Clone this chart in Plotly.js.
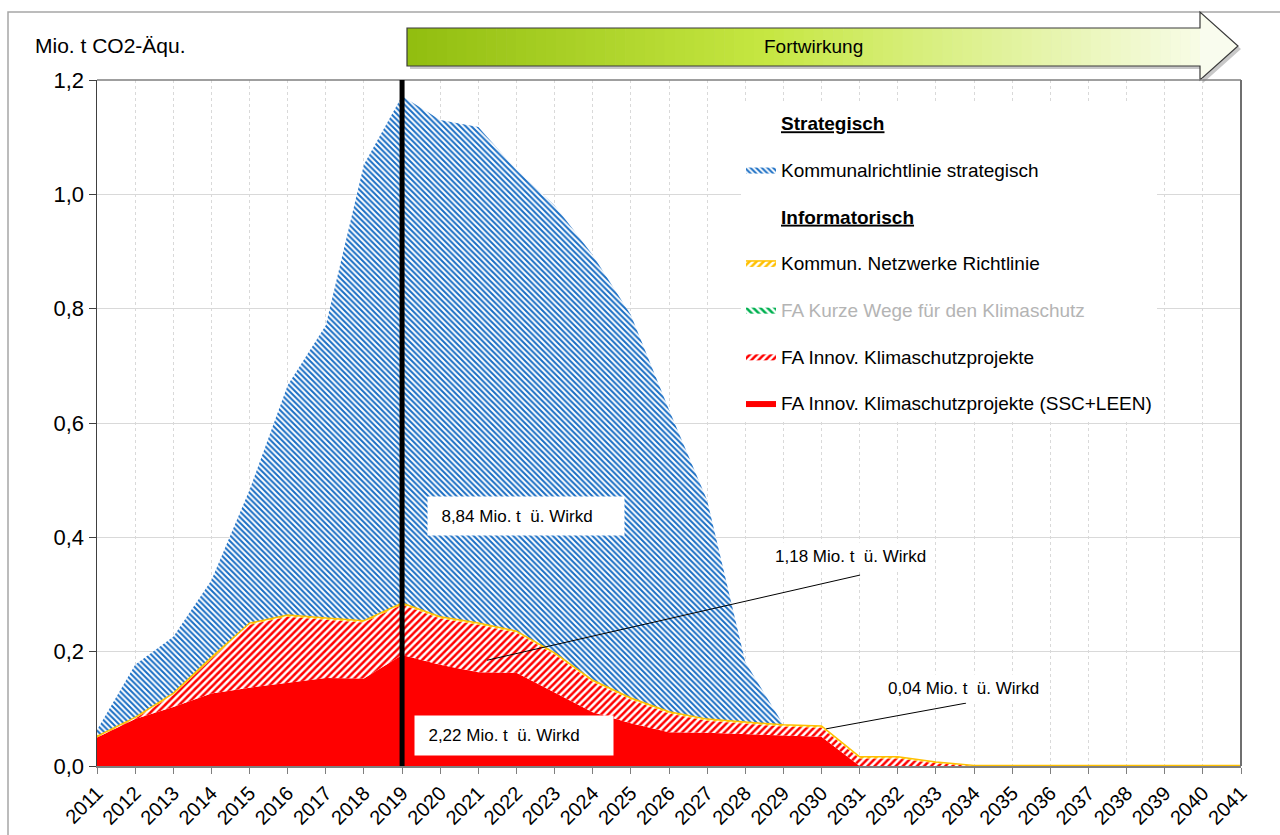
<!DOCTYPE html>
<html>
<head>
<meta charset="utf-8">
<script src="https://cdn.plot.ly/plotly-3.0.1.min.js"></script>
<style>
  html, body { margin: 0; padding: 0; background: #fff; }
  #chart { width: 1280px; height: 835px; }
</style>
</head>
<body>
<div id="chart"></div>
<script>
// Jahre 2011 - 2041
const years = [2011, 2012, 2013, 2014, 2015, 2016, 2017, 2018, 2019, 2020,
               2021, 2022, 2023, 2024, 2025, 2026, 2027, 2028, 2029, 2030,
               2031, 2032, 2033, 2034, 2035, 2036, 2037, 2038, 2039, 2040, 2041];

// Mio. t CO2-Äqu. je Jahr (gestapelt, von unten nach oben)
const innovSscLeen = [0.050, 0.082, 0.103, 0.127, 0.137, 0.145, 0.154, 0.153, 0.194, 0.177,
                      0.164, 0.163, 0.128, 0.094, 0.075, 0.059, 0.058, 0.056, 0.054, 0.051,
                      0, 0, 0, 0, 0, 0, 0, 0, 0, 0, 0];
const innovProjekte = [0.000, 0.001, 0.021, 0.060, 0.110, 0.116, 0.102, 0.098, 0.088, 0.081,
                       0.083, 0.070, 0.067, 0.053, 0.041, 0.033, 0.021, 0.018, 0.015, 0.016,
                       0.013, 0.013, 0.005, 0, 0, 0, 0, 0, 0, 0, 0];
const kurzeWege = [0, 0, 0, 0, 0, 0, 0, 0, 0, 0,
                   0, 0, 0, 0, 0, 0, 0, 0, 0, 0,
                   0, 0, 0, 0, 0, 0, 0, 0, 0, 0, 0];
const netzwerke = [0.002, 0.002, 0.003, 0.003, 0.003, 0.003, 0.003, 0.003, 0.003, 0.003,
                   0.003, 0.003, 0.003, 0.003, 0.003, 0.003, 0.003, 0.003, 0.003, 0.003,
                   0.003, 0.003, 0.002, 0.001, 0.001, 0.001, 0.001, 0.001, 0.001, 0.001, 0.001];
const kommunalStrat = [0.011, 0.092, 0.099, 0.135, 0.233, 0.402, 0.512, 0.798, 0.887, 0.869,
                       0.868, 0.807, 0.783, 0.744, 0.670, 0.528, 0.383, 0.105, 0.000, 0,
                       0, 0, 0, 0, 0, 0, 0, 0, 0, 0, 0];

// Beschriftungen
const labelStrategisch = 'Strategisch';
const labelInformatorisch = 'Informatorisch';
const notes = [
  {text: '&nbsp;&nbsp;8,84 Mio. t&nbsp; ü. Wirkd', x: 2022.25, y: 0.437, box: true, w: 188, h: 30},
  {text: '&nbsp;&nbsp;2,22 Mio. t&nbsp; ü. Wirkd', x: 2021.94, y: 0.054, box: true, w: 190, h: 31},
  {text: '1,18 Mio. t&nbsp; ü. Wirkd', x: 2030.77, y: 0.367, box: false},
  {text: '0,04 Mio. t&nbsp; ü. Wirkd', x: 2033.71, y: 0.136, box: false}
];

const FONT = 'Liberation Sans, Arial, sans-serif';

// Pixel -> paper (Plotbereich 97..1241 x 80..766)
const L = 97, R = 1241, T = 80, B = 766;
const px = v => (v - L) / (R - L);
const py = v => (B - v) / (B - T);

function area(name, y, rank, opts) {
  return Object.assign({
    x: years, y: y, name: name, type: 'scatter', mode: 'lines',
    stackgroup: 'one', legendgroup: 'g' + rank, legendrank: rank,
    line: {width: 0}, hoverinfo: 'x+y+name'
  }, opts);
}

function header(text, rank) {
  return {
    x: [years[0]], y: [null], type: 'scatter', mode: 'lines',
    name: '<b><u>' + text + '</u></b>', line: {width: 0, color: 'rgba(0,0,0,0)'},
    legendgroup: 'g' + rank, legendrank: rank, showlegend: true, hoverinfo: 'skip'
  };
}

const traces = [
  area('FA Innov. Klimaschutzprojekte (SSC+LEEN)', innovSscLeen, 7,
       {fillcolor: '#ff0000'}),
  area('FA Innov. Klimaschutzprojekte', innovProjekte, 6,
       {fillcolor: '#ffffff', fillpattern: {shape: '/', fgcolor: '#ff0000', bgcolor: '#ffffff', size: 5, solidity: 0.5}}),
  area('<span style="color:#b4b4b4">FA Kurze Wege für den Klimaschutz</span>', kurzeWege, 5,
       {fillcolor: '#ffffff', fillpattern: {shape: '\\', fgcolor: '#00b050', bgcolor: '#ffffff', size: 5, solidity: 0.5}}),
  area('Kommun. Netzwerke Richtlinie', netzwerke, 4,
       {line: {width: 1.5, color: '#ffc000'}, fillcolor: '#ffffff',
        fillpattern: {shape: '/', fgcolor: '#ffc000', bgcolor: '#ffffff', size: 5, solidity: 0.5}}),
  area('Kommunalrichtlinie strategisch', kommunalStrat, 2,
       {fillcolor: '#ffffff', fillpattern: {shape: '\\', fgcolor: '#1a6ec4', bgcolor: '#ffffff', size: 4, solidity: 0.5}}),
  header(labelStrategisch, 1),
  header(labelInformatorisch, 3)
];

// Pfeil "Fortwirkung" mit Farbverlauf
const shapes = [];
const stops = [[0, [146, 190, 16]], [0.45, [198, 231, 66]], [1, [248, 252, 232]]];
function grad(t) {
  for (let i = 1; i < stops.length; i++) {
    if (t <= stops[i][0]) {
      const a = stops[i - 1], b = stops[i];
      const f = (t - a[0]) / (b[0] - a[0]);
      const c = a[1].map((v, k) => Math.round(v + (b[1][k] - v) * f));
      return 'rgb(' + c.join(',') + ')';
    }
  }
  return 'rgb(248,252,232)';
}
const ax0 = 407, ax1 = 1200, ayT = 28, ayB = 66, hT = 12, hB = 80, tipX = 1238, tipY = 46;
const arrowPath = (dx, dy) =>
  'M' + [[ax0, ayT], [ax1, ayT], [ax1, hT], [tipX, tipY], [ax1, hB], [ax1, ayB], [ax0, ayB]]
    .map(p => px(p[0] + dx) + ',' + py(p[1] + dy)).join('L') + 'Z';

shapes.push({type: 'path', xref: 'paper', yref: 'paper', path: arrowPath(3, 3),
             fillcolor: '#c8c8c8', line: {width: 0}});
const n = 80;
for (let i = 0; i < n; i++) {
  const xa = ax0 + (ax1 - ax0) * i / n, xb = ax0 + (ax1 - ax0) * (i + 1) / n + 0.6;
  shapes.push({type: 'rect', xref: 'paper', yref: 'paper',
               x0: px(xa), x1: px(xb), y0: py(ayB), y1: py(ayT),
               fillcolor: grad(i / n), line: {width: 0}});
}
shapes.push({type: 'path', xref: 'paper', yref: 'paper',
             path: 'M' + px(ax1) + ',' + py(hT) + 'L' + px(tipX) + ',' + py(tipY) + 'L' + px(ax1) + ',' + py(hB) + 'Z',
             fillcolor: '#f9fcee', line: {width: 0}});
shapes.push({type: 'path', xref: 'paper', yref: 'paper', path: arrowPath(0, 0),
             line: {color: '#3a3a3a', width: 1.2}});

// Rahmen des Diagramms und Plotbereich
shapes.push({type: 'rect', xref: 'paper', yref: 'paper', x0: px(8), x1: px(1295), y0: py(850), y1: py(12),
             line: {color: '#a6a6a6', width: 1.5}, layer: 'below'});
shapes.push({type: 'line', xref: 'paper', yref: 'paper', x0: 0, x1: 1, y0: 1, y1: 1,
             line: {color: '#7f7f7f', width: 1.5}});
shapes.push({type: 'line', xref: 'paper', yref: 'paper', x0: 1, x1: 1, y0: 0, y1: 1,
             line: {color: '#6f6f6f', width: 2}});

// Linie 2019
shapes.push({type: 'line', xref: 'x', yref: 'y', x0: 2019, x1: 2019, y0: -0.008, y1: 1.2,
             line: {color: '#000000', width: 5}});

// Zuordnungslinien
shapes.push({type: 'line', xref: 'x', yref: 'y', x0: 2021.23, y0: 0.185, x1: 2031.01, y1: 0.334,
             line: {color: '#000000', width: 1}});
shapes.push({type: 'line', xref: 'x', yref: 'y', x0: 2030.12, y0: 0.065, x1: 2033.79, y1: 0.110,
             line: {color: '#000000', width: 1}});

const annotations = notes.map(a => Object.assign({
  x: a.x, y: a.y, xref: 'x', yref: 'y', text: a.text, showarrow: false,
  font: {family: FONT, size: 17, color: '#000'}, bgcolor: '#ffffff', borderpad: 4
}, a.box ? {width: a.w, height: a.h, align: 'left'} : {}));

annotations.push({x: px(33), y: py(45), xref: 'paper', yref: 'paper', xanchor: 'left', yanchor: 'middle',
                  text: 'Mio. t CO2-Äqu.', showarrow: false, font: {family: FONT, size: 21, color: '#000'}});
annotations.push({x: px(813), y: py(46), xref: 'paper', yref: 'paper', xanchor: 'center', yanchor: 'middle',
                  text: 'Fortwirkung', showarrow: false, font: {family: FONT, size: 19, color: '#000'}});

const layout = {
  width: 1280, height: 835,
  margin: {l: L, r: 1280 - R, t: T, b: 835 - B},
  paper_bgcolor: '#ffffff', plot_bgcolor: '#ffffff',
  separators: ',.',
  font: {family: FONT, color: '#000'},
  showlegend: true,
  legend: {
    x: px(741), y: py(104), xanchor: 'left', yanchor: 'top',
    bgcolor: '#ffffff', borderwidth: 0, traceorder: 'grouped',
    tracegroupgap: 19, font: {family: FONT, size: 19, color: '#000'}
  },
  xaxis: {
    range: [2011, 2041], dtick: 1, tick0: 2011, tickangle: -45,
    ticks: 'outside', ticklen: 6, tickcolor: '#7f7f7f',
    showline: true, linecolor: '#7f7f7f', linewidth: 1.5,
    showgrid: true, gridcolor: '#d9d9d9', griddash: 'dot', zeroline: false,
    tickfont: {family: FONT, size: 20, color: '#000'}, fixedrange: true
  },
  yaxis: {
    range: [0, 1.2], dtick: 0.2, tick0: 0, tickformat: '.1f',
    ticks: 'outside', ticklen: 7, tickcolor: '#404040',
    showline: true, linecolor: '#404040', linewidth: 1.5,
    showgrid: true, gridcolor: '#d9d9d9', zeroline: false,
    tickfont: {family: FONT, size: 22, color: '#000'}, fixedrange: true
  },
  shapes: shapes,
  annotations: annotations
};

Plotly.newPlot('chart', traces, layout, {displayModeBar: false, staticPlot: true});
</script>
</body>
</html>
